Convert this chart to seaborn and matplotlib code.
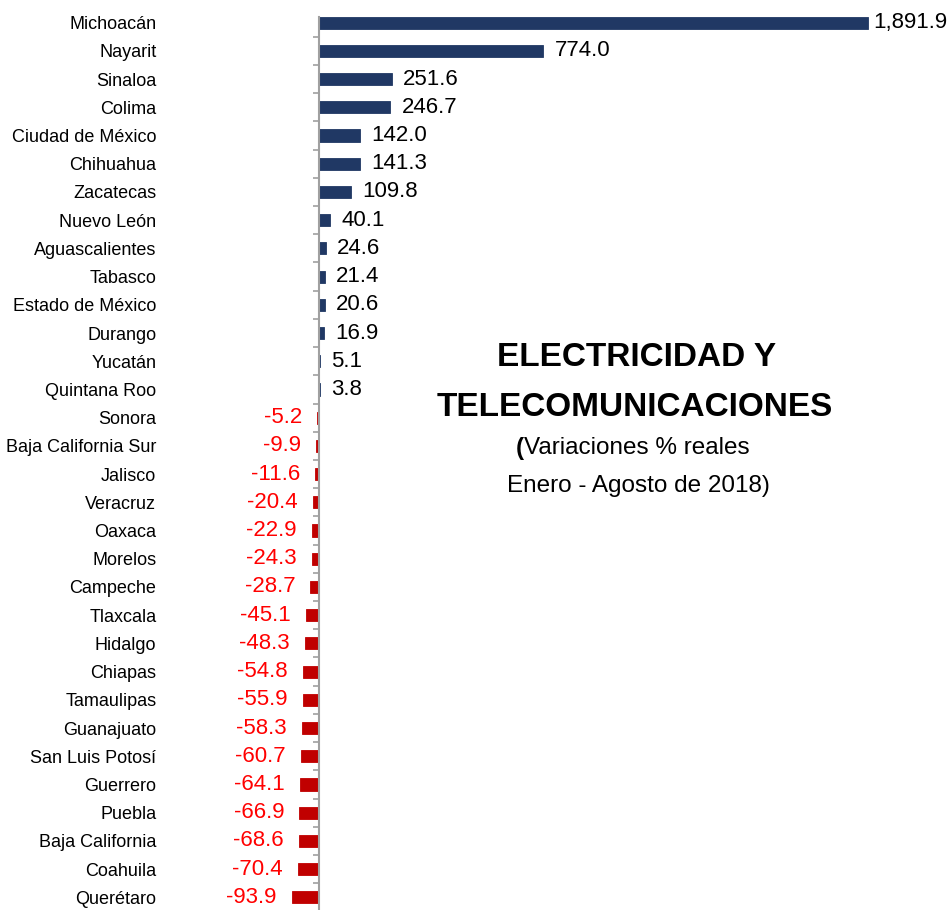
import numpy as np
import pandas as pd
import seaborn as sns
import matplotlib.pyplot as plt
from matplotlib.ticker import FixedLocator

states = ["Michoacán", "Nayarit", "Sinaloa", "Colima", "Ciudad de México", "Chihuahua",
          "Zacatecas", "Nuevo León", "Aguascalientes", "Tabasco", "Estado de México",
          "Durango", "Yucatán", "Quintana Roo", "Sonora", "Baja California Sur", "Jalisco",
          "Veracruz", "Oaxaca", "Morelos", "Campeche", "Tlaxcala", "Hidalgo", "Chiapas",
          "Tamaulipas", "Guanajuato", "San Luis Potosí", "Guerrero", "Puebla",
          "Baja California", "Coahuila", "Querétaro"]
values = [1891.9, 774.0, 251.6, 246.7, 142.0, 141.3, 109.8, 40.1, 24.6, 21.4, 20.6,
          16.9, 5.1, 3.8, -5.2, -9.9, -11.6, -20.4, -22.9, -24.3, -28.7, -45.1, -48.3,
          -54.8, -55.9, -58.3, -60.7, -64.1, -66.9, -68.6, -70.4, -93.9]

title1 = "ELECTRICIDAD Y"
title2 = "TELECOMUNICACIONES"
sub1 = "Variaciones % reales"
sub2 = "Enero - Agosto de 2018)"

sns.set_style("white")
plt.rcParams['font.family'] = ['Liberation Sans Narrow', 'Liberation Sans', 'DejaVu Sans']
plt.rcParams['text.color'] = 'black'
plt.rcParams['ytick.color'] = 'black'

df = pd.DataFrame({"estado": states, "valor": values})
colors = ["#203864" if v >= 0 else "#C00000" for v in values]

W, H = 947, 910
fig = plt.figure(figsize=(W / 100, H / 100), dpi=100)
ax = fig.add_axes([165 / W, 0.0, 705 / W, 893 / H])
sns.barplot(data=df, y="estado", x="valor", hue="estado", palette=colors,
            legend=False, width=0.43, orient="h", saturation=1, ax=ax)
for p in ax.patches:
    p.set_linewidth(0.6)
    p.set_edgecolor(p.get_facecolor())

ax.set_xlim(-530, 1899)
ax.set_ylim(31.45, -0.2)
ax.set_xlabel("")
ax.set_ylabel("")
ax.set_xticks([])
for s in ["top", "right", "bottom"]:
    ax.spines[s].set_visible(False)
ax.spines["left"].set_position(("data", 0))
ax.spines["left"].set_color("#A0A0A0")
ax.spines["left"].set_linewidth(1.5)
ax.tick_params(axis="y", which="major", left=False, length=0, pad=117, labelsize=13)
ax.yaxis.set_minor_locator(FixedLocator(np.arange(0.5, len(states), 1.0)))
ax.tick_params(axis="y", which="minor", left=True, length=4, width=1.2,
               color="#A0A0A0", direction="out")

vmax = max(values)
for i, v in enumerate(values):
    txt = f"{v:,.1f}"
    if v >= 0:
        off = 4 if v == vmax else 8  # la barra más larga deja poco margen
        ax.annotate(txt, (v, i), xytext=(off, 0), textcoords="offset points",
                    ha="left", va="center", fontsize=16, color="black")
    else:
        ax.annotate(txt, (v, i), xytext=(-11, 0), textcoords="offset points",
                    ha="right", va="center", fontsize=16, color="#FF0000")

fig.text(637 / W, 1 - 358 / H, title1, ha="center", va="center", fontsize=24, fontweight="bold")
fig.text(635 / W, 1 - 408 / H, title2, ha="center", va="center", fontsize=24, fontweight="bold")

# "(" en negrita seguido del subtítulo normal, centrado en conjunto
r = fig.canvas.get_renderer()
tp = fig.text(0, 1 - 448 / H, "(", ha="left", va="center", fontsize=17.5, fontweight="bold")
ts = fig.text(0, 1 - 448 / H, sub1, ha="left", va="center", fontsize=17.5)
wp = tp.get_window_extent(r).width
ws = ts.get_window_extent(r).width
x0 = 633 - (wp + ws) / 2
tp.set_x(x0 / W)
ts.set_x((x0 + wp) / W)
fig.text(638 / W, 1 - 486 / H, sub2, ha="center", va="center", fontsize=17.5)

plt.savefig("out.png", dpi=100)
